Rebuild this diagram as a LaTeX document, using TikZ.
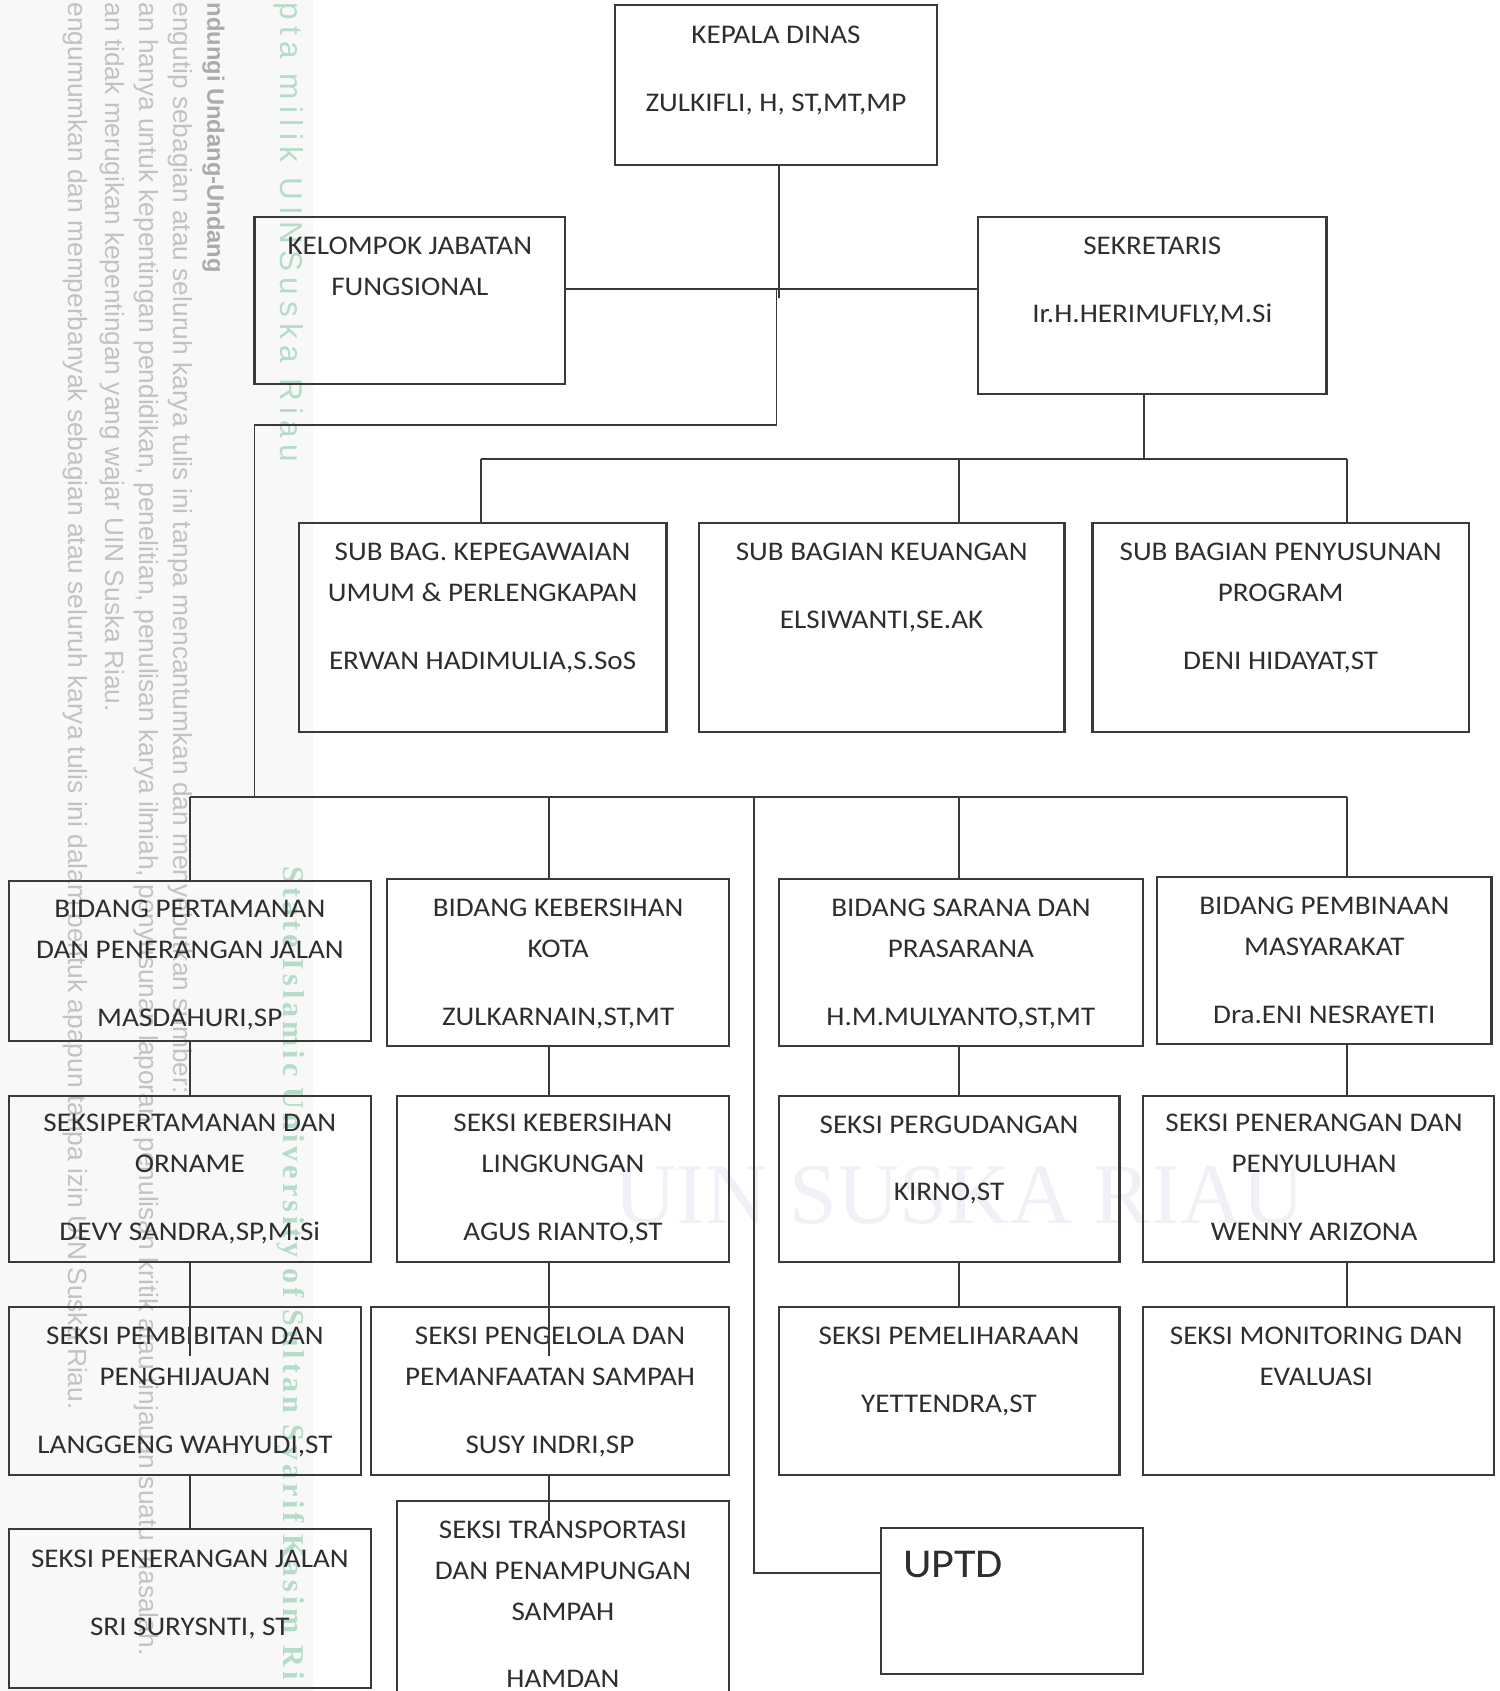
\documentclass[tikz,border=0pt]{standalone}
\usepackage{fontspec}
\setmainfont{Carlito}
\newfontfamily\boxfont{Carlito}[FakeStretch=1.08]
\newfontfamily\notefont{Liberation Sans}
\newfontfamily\marksans{Liberation Sans}[LetterSpace=20]
\newfontfamily\markserif{Liberation Serif}[LetterSpace=13]
\newfontfamily\ghostfont{Liberation Serif}
\usepackage{xcolor}
\usetikzlibrary{positioning}
\definecolor{linegray}{HTML}{3A3A3A}
\definecolor{textgray}{HTML}{2E2E2E}
\definecolor{notegray}{HTML}{C2C2C2}
\definecolor{headgray}{HTML}{ABABAB}
\definecolor{markgreen}{HTML}{B4DCC7}
\definecolor{stripgray}{HTML}{F8F8F8}
\definecolor{ghostblue}{HTML}{EFF1F6}
\tikzset{
  unit/.style={draw=linegray, line width=1pt, inner sep=0pt},
  link/.style={draw=linegray, line width=0.9pt},
  boxtext/.style={font=\boxfont\fontsize{12.5pt}{19pt}\selectfont, text=textgray, align=center, inner sep=0pt},
  note/.style={font=\notefont\fontsize{12.2pt}{14pt}\selectfont, text=notegray, inner sep=0pt, rotate=-90, anchor=west},
}

\begin{document}
\begin{tikzpicture}[x=0.5pt, y=-0.5pt]
\useasboundingbox (0,0) rectangle (1390,1568);
\begin{scope}
\clip (0,0) rectangle (1390,1568);
\fill[stripgray] (0,0) rectangle (290,1568);
\node[note, text=headgray, font=\notefont\bfseries\fontsize{11pt}{13pt}\selectfont] (note0) at (198,2) {ndungi Undang-Undang};
\node[note] (note1) at (167,2) {engutip sebagian atau seluruh karya tulis ini tanpa mencantumkan dan menyebutkan sumber:};
\node[note] (note2) at (136,2) {an hanya untuk kepentingan pendidikan, penelitian, penulisan karya ilmiah, penyusunan laporan, penulisan kritik atau tinjauan suatu masalah.};
\node[note] (note3) at (104,2) {an tidak merugikan kepentingan yang wajar UIN Suska Riau.};
\node[note] (note4) at (70,2) {engumumkan dan memperbanyak sebagian atau seluruh karya tulis ini dalam bentuk apapun tanpa izin UIN Suska Riau.};
\node[font=\marksans\fontsize{14.6pt}{16pt}\selectfont, text=markgreen, rotate=-90, anchor=west, inner sep=0pt] (mark0) at (268,2) {pta milik UINSuska Riau};
\node[font=\markserif\bfseries\fontsize{14pt}{16pt}\selectfont, text=markgreen, rotate=-90, anchor=west, inner sep=0pt] (mark1) at (270,803) {State Islamic University of Sultan Syarif Kasim Ri};
\node[font=\ghostfont\fontsize{40pt}{44pt}\selectfont, text=ghostblue, inner sep=0pt] (ghost) at (890,1108) {UIN SUSKA RIAU};

\node[unit, minimum width=149.5pt, minimum height=74pt] (kadis) at (719.5,79) {};
\node[unit, minimum width=144pt, minimum height=77.5pt] (jabfung) at (380,278.5) {};
\node[unit, minimum width=161.5pt, minimum height=82pt] (sekr) at (1068.5,283) {};
\node[unit, minimum width=170.5pt, minimum height=97pt] (kepeg) at (447.5,582) {};
\node[unit, minimum width=169.5pt, minimum height=97pt] (keu) at (817.5,582) {};
\node[unit, minimum width=174.5pt, minimum height=97pt] (prog) at (1187.5,582) {};
\node[unit, minimum width=168pt, minimum height=74pt] (taman) at (176,891) {};
\node[unit, minimum width=158.5pt, minimum height=77.5pt] (bersih) at (517.5,892.5) {};
\node[unit, minimum width=169pt, minimum height=77.5pt] (sarana) at (891,892.5) {};
\node[unit, minimum width=155pt, minimum height=77.5pt] (bina) at (1228,890.5) {};
\node[unit, minimum width=168pt, minimum height=77pt] (orname) at (176,1093) {};
\node[unit, minimum width=154pt, minimum height=77pt] (lingk) at (522,1093) {};
\node[unit, minimum width=158pt, minimum height=77pt] (gudang) at (880,1093) {};
\node[unit, minimum width=162.5pt, minimum height=77pt] (suluh) at (1222.5,1093) {};
\node[unit, minimum width=163.5pt, minimum height=78pt] (bibit) at (171.5,1290) {};
\node[unit, minimum width=166pt, minimum height=78pt] (olah) at (510,1290) {};
\node[unit, minimum width=158pt, minimum height=78pt] (pelihara) at (880,1290) {};
\node[unit, minimum width=162.5pt, minimum height=78pt] (monev) at (1222.5,1290) {};
\node[unit, minimum width=168pt, minimum height=73.5pt] (jalan) at (176,1491.5) {};
\node[unit, minimum width=154pt, minimum height=96.5pt] (angkut) at (522,1488.5) {};
\node[unit, minimum width=121.5pt, minimum height=67.5pt] (uptd) at (938.5,1484.5) {};

\node[boxtext, below=10pt of kadis.north] (kadis-t) {KEPALA DINAS\\[12.5pt]ZULKIFLI, H, ST,MT,MP};
\node[boxtext, below=9.5pt of jabfung.north] (jabfung-t) {KELOMPOK JABATAN\\FUNGSIONAL};
\node[boxtext, below=9.5pt of sekr.north] (sekr-t) {SEKRETARIS\\[12.5pt]Ir.H.HERIMUFLY,M.Si};
\node[boxtext, below=9.5pt of kepeg.north] (kepeg-t) {SUB BAG. KEPEGAWAIAN\\UMUM \& PERLENGKAPAN\\[12.5pt]ERWAN HADIMULIA,S.SoS};
\node[boxtext, below=9.5pt of keu.north] (keu-t) {SUB BAGIAN KEUANGAN\\[12.5pt]ELSIWANTI,SE.AK};
\node[boxtext, below=9.5pt of prog.north] (prog-t) {SUB BAGIAN PENYUSUNAN\\PROGRAM\\[12.5pt]DENI HIDAYAT,ST};
\node[boxtext, below=9pt of taman.north] (taman-t) {BIDANG PERTAMANAN\\DAN PENERANGAN JALAN\\[12.5pt]MASDAHURI,SP};
\node[boxtext, below=9.5pt of bersih.north] (bersih-t) {BIDANG KEBERSIHAN\\KOTA\\[12.5pt]ZULKARNAIN,ST,MT};
\node[boxtext, below=9.5pt of sarana.north] (sarana-t) {BIDANG SARANA DAN\\PRASARANA\\[12.5pt]H.M.MULYANTO,ST,MT};
\node[boxtext, below=9.5pt of bina.north] (bina-t) {BIDANG PEMBINAAN\\MASYARAKAT\\[12.5pt]Dra.ENI NESRAYETI};
\node[boxtext, below=9pt of orname.north] (orname-t) {SEKSIPERTAMANAN DAN\\ORNAME\\[12.5pt]DEVY SANDRA,SP,M.Si};
\node[boxtext, below=9pt of lingk.north] (lingk-t) {SEKSI KEBERSIHAN\\LINGKUNGAN\\[12.5pt]AGUS RIANTO,ST};
\node[boxtext, below=9.5pt of gudang.north] (gudang-t) {SEKSI PERGUDANGAN\\[12.5pt]KIRNO,ST};
\node[boxtext, below=9pt of suluh.north, xshift=-2pt] (suluh-t) {SEKSI PENERANGAN DAN\\PENYULUHAN\\[12.5pt]WENNY ARIZONA};
\node[boxtext, below=9.5pt of bibit.north] (bibit-t) {SEKSI PEMBIBITAN DAN\\PENGHIJAUAN\\[12.5pt]LANGGENG WAHYUDI,ST};
\node[boxtext, below=9.5pt of olah.north] (olah-t) {SEKSI PENGELOLA DAN\\PEMANFAATAN SAMPAH\\[12.5pt]SUSY INDRI,SP};
\node[boxtext, below=9.5pt of pelihara.north] (pelihara-t) {SEKSI PEMELIHARAAN\\[12.5pt]YETTENDRA,ST};
\node[boxtext, below=9.5pt of monev.north, xshift=-1pt] (monev-t) {SEKSI MONITORING DAN\\EVALUASI};
\node[boxtext, below=10pt of jalan.north] (jalan-t) {SEKSI PENERANGAN JALAN\\[12.5pt]SRI SURYSNTI, ST};
\node[boxtext, below=9.5pt of angkut.north] (angkut-t) {SEKSI TRANSPORTASI\\DAN PENAMPUNGAN\\SAMPAH\\[12pt]HAMDAN};
\node[font=\boxfont\fontsize{19pt}{22pt}\selectfont, text=textgray, inner sep=0pt, anchor=west] (uptd-t) at ([xshift=10.5pt, yshift=-17.5pt]uptd.north west) {UPTD};

\coordinate (hub) at (720,268);
\coordinate (hubend) at (722,276);
\coordinate (turn1) at (720,394);
\coordinate (turn2) at (236,739);
\draw[link] (kadis.south -| hubend) -- (hubend);
\draw[link] (jabfung.east |- hub) -- (sekr.west |- hub);
\draw[link] (hub) -- (turn1) -| (turn2);

\coordinate (t0) at (1061,426);
\coordinate (t1) at (446,426);
\coordinate (t2) at (889,426);
\coordinate (t3) at (1249,426);
\draw[link] (t0 |- sekr.south) -- (t0);
\draw[link] (t1) -- (t3);
\draw[link] (t1) -- (t1 |- kepeg.north);
\draw[link] (t2) -- (t2 |- keu.north);
\draw[link] (t3) -- (t3 |- prog.north);

\coordinate (b1) at (176,739);
\coordinate (b2) at (509,739);
\coordinate (b5) at (699,739);
\coordinate (b3) at (889,739);
\coordinate (b4) at (1249,739);
\draw[link] (b1) -- (b4);
\draw[link] (b1) -- (b1 |- taman.north);
\draw[link] (b2) -- (b2 |- bersih.north);
\draw[link] (b3) -- (b3 |- sarana.north);
\draw[link] (b4) -- (b4 |- bina.north);
\coordinate (u1) at (699,1459);
\draw[link] (b5) -- (u1) -- (u1 -| uptd.west);

\coordinate (e1) at (176,1257);
\coordinate (e2) at (509,1257);
\coordinate (e3) at (509,1410);
\draw[link] (b1 |- taman.south) -- (b1 |- orname.north);
\draw[link] (b1 |- orname.south) -- (e1);
\draw[link] (b1 |- bibit.south) -- (b1 |- jalan.north);
\draw[link] (b2 |- bersih.south) -- (b2 |- lingk.north);
\draw[link] (b2 |- lingk.south) -- (e2);
\draw[link] (b2 |- olah.south) -- (e3);
\draw[link] (b3 |- sarana.south) -- (b3 |- gudang.north);
\draw[link] (b3 |- gudang.south) -- (b3 |- pelihara.north);
\draw[link] (b4 |- bina.south) -- (b4 |- suluh.north);
\draw[link] (b4 |- suluh.south) -- (b4 |- monev.north);
\end{scope}
\end{tikzpicture}
\end{document}
